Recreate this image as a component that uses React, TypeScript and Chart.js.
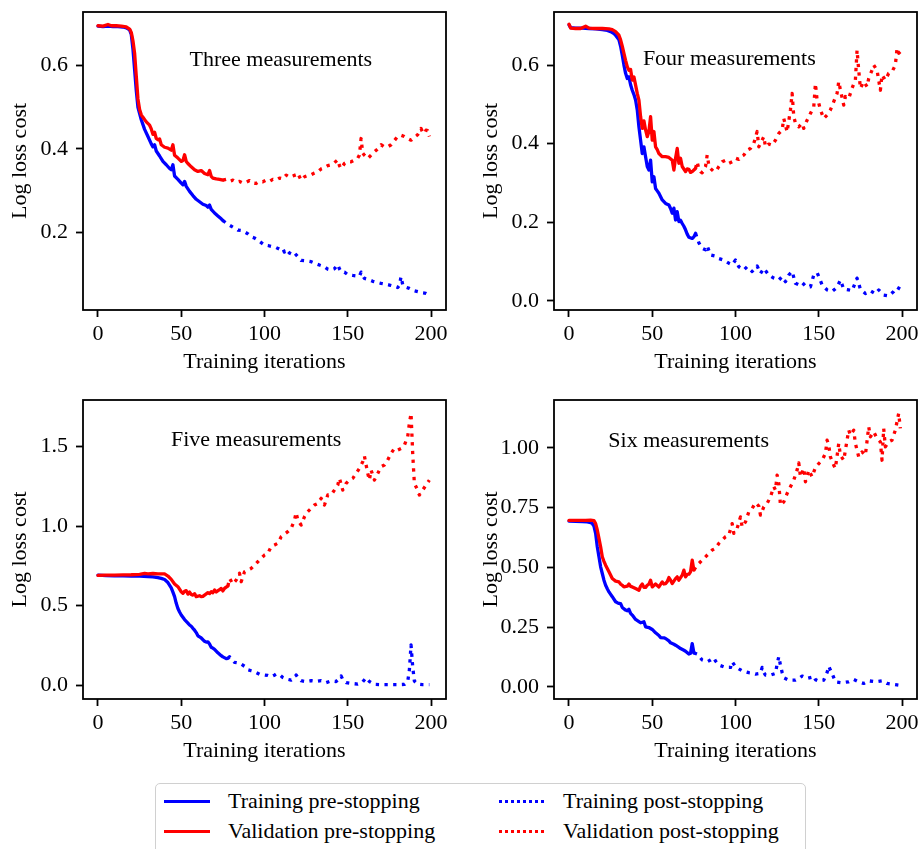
import React, { useEffect, useRef } from "react";
import { Chart, registerables } from "chart.js";

Chart.register(...registerables);

const FONT_FAMILY = '"Liberation Serif", "Times New Roman", Times, serif';
const FONT_SIZE = 22;
const BLUE = "#0000ff";
const RED = "#ff0000";

const xTicks = [0, 50, 100, 150, 200];
const xTickLabels = ["0", "50", "100", "150", "200"];
const xLabel = "Training iterations";
const yLabel = "Log loss cost";
const legendLabels = [
  "Training pre-stopping",
  "Validation pre-stopping",
  "Training post-stopping",
  "Validation post-stopping",
];

// ---------- Panel 1: Three measurements ----------
const p1Title = "Three measurements";
const p1Stop = 75;
const p1YTicks = [0.2, 0.4, 0.6];
const p1YTickLabels = ["0.2", "0.4", "0.6"];
const p1TrainIt = [0, 3, 6, 9, 12, 15, 17, 19, 20, 21, 22, 23, 24, 25, 26, 28, 30, 32, 33, 34, 35, 37, 39, 41, 43, 44, 45, 46, 48, 50, 51, 52, 53, 55, 57, 59, 61, 63, 65, 66, 67, 68, 70, 72, 74, 75,
  78, 81, 84, 86, 88, 90, 92, 94, 96, 98, 100, 102, 105, 107, 110, 111, 112, 113, 115, 117, 118, 120, 122, 125, 128, 131, 133, 136, 138, 140, 142, 144, 145, 146, 148, 150, 153, 155, 157, 158, 159, 160, 162, 165, 168, 170, 173, 175, 178, 180, 181, 182, 183, 184, 187, 190, 192, 195, 197, 199];
const p1TrainLoss = [0.695, 0.694, 0.695, 0.694, 0.694, 0.693, 0.691, 0.686, 0.675, 0.64, 0.59, 0.54, 0.5, 0.485, 0.47, 0.447, 0.43, 0.412, 0.405, 0.41, 0.395, 0.383, 0.37, 0.362, 0.353, 0.35, 0.362, 0.335, 0.327, 0.318, 0.314, 0.322, 0.31, 0.298, 0.288, 0.279, 0.273, 0.267, 0.264, 0.26, 0.265, 0.255, 0.246, 0.239, 0.232, 0.228,
  0.219, 0.212, 0.205, 0.204, 0.201, 0.196, 0.189, 0.186, 0.181, 0.175, 0.169, 0.168, 0.165, 0.163, 0.157, 0.16, 0.152, 0.158, 0.15, 0.146, 0.15, 0.141, 0.132, 0.131, 0.129, 0.124, 0.121, 0.117, 0.111, 0.109, 0.112, 0.122, 0.112, 0.105, 0.104, 0.098, 0.096, 0.095, 0.094, 0.104, 0.095, 0.089, 0.087, 0.082, 0.079, 0.077, 0.075, 0.073, 0.07, 0.067, 0.072, 0.093, 0.074, 0.069, 0.065, 0.059, 0.057, 0.054, 0.053, 0.049];
const p1ValIt = [0, 3, 6, 8, 11, 14, 17, 19, 20, 21, 22, 23, 24, 25, 26, 27, 29, 31, 32, 33, 34, 35, 36, 37, 38, 40, 42, 44, 45, 46, 48, 50, 51, 52, 53, 54, 56, 58, 60, 62, 64, 66, 67, 68, 69, 71, 73, 75,
  77, 79, 81, 83, 85, 87, 89, 91, 93, 95, 97, 99, 101, 103, 105, 107, 109, 111, 113, 115, 117, 119, 120, 121, 122, 124, 126, 128, 130, 132, 134, 136, 138, 140, 142, 144, 145, 146, 148, 150, 152, 154, 156, 157, 158, 159, 160, 162, 164, 166, 168, 170, 172, 174, 176, 178, 180, 182, 184, 186, 188, 190, 192, 194, 195, 196, 197, 198, 199];
const p1ValLoss = [0.696, 0.695, 0.699, 0.696, 0.696, 0.695, 0.693, 0.688, 0.68, 0.66, 0.63, 0.575, 0.52, 0.495, 0.482, 0.476, 0.465, 0.457, 0.448, 0.435, 0.44, 0.425, 0.422, 0.424, 0.41, 0.404, 0.402, 0.397, 0.41, 0.385, 0.378, 0.37, 0.372, 0.386, 0.37, 0.365, 0.357, 0.35, 0.346, 0.348, 0.341, 0.338, 0.348, 0.334, 0.33, 0.328, 0.327, 0.325,
  0.327, 0.322, 0.325, 0.32, 0.322, 0.318, 0.32, 0.324, 0.318, 0.317, 0.322, 0.321, 0.325, 0.322, 0.327, 0.325, 0.33, 0.328, 0.337, 0.332, 0.335, 0.338, 0.342, 0.333, 0.325, 0.333, 0.336, 0.338, 0.342, 0.345, 0.352, 0.355, 0.36, 0.362, 0.367, 0.374, 0.36, 0.353, 0.365, 0.37, 0.369, 0.373, 0.378, 0.385, 0.425, 0.39, 0.385, 0.377, 0.385, 0.393, 0.4, 0.41, 0.405, 0.405, 0.41, 0.42, 0.43, 0.433, 0.43, 0.425, 0.421, 0.428, 0.434, 0.449, 0.44, 0.437, 0.445, 0.444, 0.43];

// ---------- Panel 2: Four measurements ----------
const p2Title = "Four measurements";
const p2Stop = 76;
const p2YTicks = [0.0, 0.2, 0.4, 0.6];
const p2YTickLabels = ["0.0", "0.2", "0.4", "0.6"];
const p2TrainIt = [0, 1, 4, 8, 12, 16, 20, 23, 25, 27, 28, 30, 31, 32, 33, 34, 35, 36, 37, 38, 39, 40, 41, 42, 43, 44, 45, 46, 47, 48, 49, 50, 51, 52, 53, 54, 56, 58, 60, 61, 62, 63, 64, 65, 66, 67, 68, 69, 70, 71, 72, 74, 75, 76,
  78, 80, 82, 83, 85, 88, 90, 93, 96, 98, 100, 102, 105, 107, 110, 113, 115, 117, 120, 123, 126, 128, 130, 132, 134, 136, 138, 140, 142, 145, 147, 149, 150, 152, 155, 158, 161, 163, 165, 168, 170, 173, 175, 178, 181, 184, 186, 189, 192, 195, 197, 199];
const p2TrainLoss = [0.702, 0.695, 0.694, 0.694, 0.693, 0.692, 0.69, 0.688, 0.685, 0.68, 0.676, 0.664, 0.648, 0.625, 0.6, 0.579, 0.566, 0.57, 0.55, 0.536, 0.525, 0.511, 0.486, 0.443, 0.409, 0.375, 0.392, 0.367, 0.342, 0.333, 0.358, 0.303, 0.316, 0.286, 0.28, 0.274, 0.257, 0.248, 0.244, 0.235, 0.223, 0.236, 0.206, 0.227, 0.202, 0.205, 0.197, 0.19, 0.181, 0.17, 0.162, 0.159, 0.163, 0.172,
  0.148, 0.134, 0.13, 0.14, 0.117, 0.114, 0.108, 0.104, 0.096, 0.092, 0.104, 0.087, 0.079, 0.087, 0.075, 0.089, 0.07, 0.083, 0.066, 0.058, 0.053, 0.062, 0.049, 0.066, 0.075, 0.045, 0.041, 0.047, 0.038, 0.036, 0.066, 0.072, 0.062, 0.041, 0.028, 0.024, 0.035, 0.053, 0.03, 0.028, 0.026, 0.058, 0.03, 0.019, 0.026, 0.018, 0.028, 0.015, 0.013, 0.024, 0.035, 0.03];
const p2ValIt = [0, 1, 4, 7, 10, 12, 16, 20, 24, 26, 28, 30, 31, 32, 33, 34, 35, 36, 37, 38, 39, 40, 41, 42, 43, 44, 45, 46, 47, 48, 49, 50, 51, 52, 53, 54, 56, 58, 60, 62, 63, 64, 65, 66, 67, 68, 70, 71, 72, 73, 74, 75, 76,
  77, 78, 79, 80, 82, 83, 84, 85, 87, 89, 90, 92, 94, 96, 98, 100, 102, 103, 105, 107, 109, 111, 113, 114, 116, 117, 118, 120, 122, 124, 126, 128, 129, 131, 133, 134, 135, 136, 138, 140, 141, 143, 145, 147, 148, 149, 150, 151, 153, 155, 157, 159, 161, 162, 163, 165, 166, 168, 170, 172, 173, 174, 175, 177, 179, 180, 182, 183, 185, 187, 188, 190, 192, 194, 196, 197, 198, 199];
const p2ValLoss = [0.704, 0.694, 0.693, 0.693, 0.699, 0.694, 0.693, 0.693, 0.692, 0.69, 0.685, 0.676, 0.664, 0.648, 0.63, 0.612, 0.596, 0.587, 0.589, 0.562, 0.57, 0.549, 0.528, 0.511, 0.469, 0.439, 0.458, 0.435, 0.418, 0.431, 0.469, 0.409, 0.431, 0.392, 0.385, 0.375, 0.367, 0.367, 0.365, 0.358, 0.333, 0.363, 0.388, 0.35, 0.363, 0.342, 0.329, 0.336, 0.335, 0.327, 0.329, 0.333, 0.337,
  0.354, 0.335, 0.329, 0.326, 0.342, 0.371, 0.345, 0.337, 0.329, 0.335, 0.342, 0.354, 0.358, 0.35, 0.354, 0.363, 0.36, 0.367, 0.371, 0.384, 0.388, 0.401, 0.431, 0.392, 0.409, 0.418, 0.392, 0.399, 0.396, 0.409, 0.426, 0.435, 0.464, 0.43, 0.486, 0.528, 0.469, 0.452, 0.443, 0.452, 0.439, 0.46, 0.477, 0.494, 0.553, 0.511, 0.503, 0.486, 0.464, 0.473, 0.486, 0.507, 0.528, 0.558, 0.537, 0.498, 0.52, 0.515, 0.541, 0.562, 0.638, 0.587, 0.541, 0.558, 0.545, 0.566, 0.587, 0.6, 0.587, 0.536, 0.575, 0.562, 0.579, 0.583, 0.6, 0.642, 0.63, 0.634];

// ---------- Panel 3: Five measurements ----------
const p3Title = "Five measurements";
const p3Stop = 78;
const p3YTicks = [0.0, 0.5, 1.0, 1.5];
const p3YTickLabels = ["0.0", "0.5", "1.0", "1.5"];
const p3TrainIt = [0, 5, 10, 15, 20, 25, 30, 33, 36, 38, 40, 42, 44, 45, 46, 47, 48, 49, 50, 52, 54, 55, 56, 57, 58, 59, 60, 62, 64, 65, 66, 67, 68, 69, 70, 72, 74, 75, 77, 78,
  79, 80, 82, 85, 88, 90, 92, 94, 97, 100, 102, 104, 106, 107, 109, 111, 113, 116, 118, 119, 120, 122, 125, 128, 131, 134, 137, 140, 143, 145, 146, 147, 149, 152, 156, 159, 161, 163, 166, 170, 175, 180, 184, 186, 187, 188, 189, 190, 192, 195, 199];
const p3TrainLoss = [0.692, 0.688, 0.687, 0.687, 0.686, 0.685, 0.683, 0.681, 0.676, 0.671, 0.664, 0.645, 0.612, 0.585, 0.556, 0.514, 0.482, 0.46, 0.441, 0.412, 0.39, 0.378, 0.37, 0.357, 0.345, 0.33, 0.31, 0.296, 0.275, 0.27, 0.272, 0.258, 0.238, 0.232, 0.225, 0.203, 0.185, 0.177, 0.166, 0.168,
  0.178, 0.165, 0.143, 0.138, 0.118, 0.096, 0.09, 0.084, 0.068, 0.063, 0.06, 0.052, 0.062, 0.069, 0.066, 0.048, 0.038, 0.031, 0.045, 0.063, 0.048, 0.027, 0.021, 0.027, 0.022, 0.027, 0.015, 0.026, 0.022, 0.04, 0.057, 0.035, 0.015, 0.01, 0.006, 0.02, 0.046, 0.022, 0.004, 0.002, 0.002, 0.002, 0.004, 0.021, 0.094, 0.252, 0.115, 0.025, 0.005, 0.002, 0.002];
const p3ValIt = [0, 5, 10, 15, 20, 25, 28, 30, 33, 36, 40, 42, 44, 46, 48, 50, 51, 52, 53, 54, 55, 56, 57, 58, 59, 61, 62, 63, 64, 66, 67, 68, 69, 70, 71, 72, 73, 74, 75, 76, 77, 78,
  79, 81, 83, 85, 86, 88, 90, 92, 94, 96, 98, 100, 102, 104, 106, 108, 110, 112, 114, 116, 118, 119, 120, 122, 124, 126, 128, 130, 132, 134, 136, 138, 140, 142, 144, 145, 147, 149, 151, 153, 155, 157, 159, 160, 162, 163, 164, 166, 168, 170, 172, 174, 176, 178, 180, 182, 184, 186, 187, 188, 189, 190, 192, 193, 195, 197, 199];
const p3ValLoss = [0.69, 0.692, 0.692, 0.693, 0.694, 0.697, 0.703, 0.7, 0.702, 0.699, 0.699, 0.686, 0.665, 0.636, 0.619, 0.587, 0.577, 0.59, 0.594, 0.572, 0.585, 0.57, 0.566, 0.575, 0.556, 0.562, 0.556, 0.558, 0.566, 0.581, 0.575, 0.587, 0.581, 0.598, 0.585, 0.594, 0.6, 0.608, 0.592, 0.608, 0.616, 0.623,
  0.671, 0.636, 0.661, 0.703, 0.65, 0.713, 0.724, 0.734, 0.755, 0.776, 0.797, 0.818, 0.829, 0.871, 0.881, 0.892, 0.933, 0.95, 0.965, 0.986, 1.038, 1.085, 1.038, 1.007, 1.059, 1.091, 1.112, 1.133, 1.143, 1.175, 1.133, 1.196, 1.196, 1.227, 1.259, 1.301, 1.227, 1.269, 1.29, 1.301, 1.332, 1.364, 1.405, 1.441, 1.332, 1.29, 1.353, 1.29, 1.332, 1.374, 1.385, 1.416, 1.458, 1.489, 1.479, 1.489, 1.51, 1.563, 1.647, 1.71, 1.458, 1.269, 1.227, 1.196, 1.227, 1.259, 1.29];

// ---------- Panel 4: Six measurements ----------
const p4Title = "Six measurements";
const p4Stop = 75;
const p4YTicks = [0.0, 0.25, 0.5, 0.75, 1.0];
const p4YTickLabels = ["0.00", "0.25", "0.50", "0.75", "1.00"];
const p4TrainIt = [0, 4, 8, 11, 13, 14, 15, 16, 17, 18, 19, 20, 21, 22, 23, 24, 26, 28, 29, 30, 31, 32, 34, 35, 36, 37, 38, 40, 42, 43, 45, 46, 48, 50, 52, 54, 55, 57, 58, 60, 61, 63, 64, 66, 67, 69, 70, 72, 73, 74, 75,
  77, 80, 83, 85, 87, 88, 90, 94, 97, 98, 100, 102, 104, 108, 110, 112, 115, 116, 117, 118, 121, 124, 125, 126, 127, 128, 129, 132, 136, 138, 140, 143, 146, 147, 148, 150, 153, 155, 156, 157, 158, 160, 164, 168, 171, 174, 177, 180, 184, 188, 191, 194, 197, 198];
const p4TrainLoss = [0.693, 0.692, 0.691, 0.69, 0.687, 0.683, 0.672, 0.642, 0.586, 0.544, 0.502, 0.474, 0.446, 0.425, 0.41, 0.397, 0.377, 0.356, 0.352, 0.349, 0.348, 0.332, 0.321, 0.318, 0.324, 0.307, 0.3, 0.282, 0.273, 0.268, 0.272, 0.251, 0.248, 0.24, 0.226, 0.215, 0.206, 0.205, 0.202, 0.192, 0.184, 0.178, 0.174, 0.165, 0.16, 0.153, 0.149, 0.137, 0.14, 0.181, 0.142,
  0.137, 0.112, 0.105, 0.112, 0.121, 0.108, 0.091, 0.081, 0.081, 0.105, 0.084, 0.075, 0.067, 0.059, 0.057, 0.053, 0.056, 0.081, 0.06, 0.049, 0.049, 0.056, 0.095, 0.126, 0.09, 0.06, 0.038, 0.028, 0.028, 0.035, 0.045, 0.035, 0.04, 0.045, 0.03, 0.024, 0.028, 0.06, 0.086, 0.07, 0.056, 0.021, 0.017, 0.021, 0.031, 0.021, 0.014, 0.025, 0.021, 0.025, 0.014, 0.011, 0.008, 0.007];
const p4ValIt = [0, 5, 10, 13, 15, 16, 17, 18, 19, 20, 21, 22, 24, 26, 28, 30, 31, 32, 33, 35, 36, 37, 38, 40, 42, 43, 44, 45, 46, 47, 48, 49, 50, 52, 54, 56, 57, 58, 59, 60, 61, 62, 64, 65, 66, 68, 69, 70, 71, 72, 73, 74, 75,
  77, 80, 82, 84, 86, 88, 90, 92, 94, 96, 98, 99, 101, 103, 104, 106, 108, 110, 112, 114, 115, 117, 119, 121, 123, 124, 125, 126, 127, 129, 131, 133, 135, 137, 138, 139, 141, 142, 144, 146, 148, 150, 152, 154, 155, 156, 157, 159, 160, 162, 163, 165, 166, 168, 169, 171, 172, 174, 176, 178, 180, 181, 183, 185, 187, 188, 189, 190, 192, 194, 196, 198, 199];
const p4ValLoss = [0.696, 0.696, 0.696, 0.697, 0.695, 0.683, 0.656, 0.621, 0.586, 0.544, 0.525, 0.509, 0.481, 0.453, 0.442, 0.439, 0.43, 0.425, 0.418, 0.421, 0.43, 0.42, 0.418, 0.411, 0.404, 0.421, 0.43, 0.416, 0.416, 0.425, 0.43, 0.446, 0.418, 0.43, 0.418, 0.439, 0.43, 0.432, 0.44, 0.457, 0.446, 0.432, 0.453, 0.46, 0.446, 0.467, 0.488, 0.46, 0.47, 0.471, 0.481, 0.53, 0.488,
  0.509, 0.53, 0.544, 0.558, 0.572, 0.579, 0.6, 0.614, 0.628, 0.635, 0.683, 0.642, 0.663, 0.711, 0.669, 0.69, 0.732, 0.746, 0.77, 0.756, 0.718, 0.753, 0.767, 0.795, 0.837, 0.823, 0.886, 0.851, 0.76, 0.774, 0.809, 0.837, 0.865, 0.907, 0.937, 0.879, 0.914, 0.858, 0.907, 0.879, 0.918, 0.934, 0.948, 0.976, 1.032, 1.011, 0.962, 0.927, 0.914, 1.018, 0.969, 0.948, 0.99, 1.074, 1.053, 1.074, 1.018, 0.962, 0.983, 0.969, 1.088, 1.046, 1.067, 1.039, 1.025, 0.948, 1.081, 1.004, 1.025, 1.032, 1.074, 1.144, 1.081];

// ---------- layout (positions / sizes only) ----------
type Box = { left: number; top: number; w: number; h: number };
type Plot = { left: number; top: number; right: number; bottom: number };

const LAYOUT: { box: Box; plot: Plot; yRange: [number, number]; titlePos: [number, number] }[] = [
  { box: { left: 0, top: 0, w: 460, h: 380 }, plot: { left: 83, top: 12, right: 446, bottom: 310 }, yRange: [0.013, 0.729], titlePos: [0.545, 0.161] },
  { box: { left: 460, top: 0, w: 460, h: 380 }, plot: { left: 554, top: 12, right: 917, bottom: 310 }, yRange: [-0.023, 0.735], titlePos: [0.483, 0.158] },
  { box: { left: 0, top: 388, w: 460, h: 380 }, plot: { left: 83, top: 400, right: 446, bottom: 699 }, yRange: [-0.088, 1.794], titlePos: [0.477, 0.136] },
  { box: { left: 460, top: 388, w: 460, h: 380 }, plot: { left: 554, top: 400, right: 917, bottom: 699 }, yRange: [-0.051, 1.2], titlePos: [0.371, 0.137] },
];
const X_RANGE: [number, number] = [-9, 209];

type PanelData = {
  title: string; stop: number; yTicks: number[]; yTickLabels: string[];
  trainIt: number[]; trainLoss: number[]; valIt: number[]; valLoss: number[];
};

const PANELS: PanelData[] = [
  { title: p1Title, stop: p1Stop, yTicks: p1YTicks, yTickLabels: p1YTickLabels, trainIt: p1TrainIt, trainLoss: p1TrainLoss, valIt: p1ValIt, valLoss: p1ValLoss },
  { title: p2Title, stop: p2Stop, yTicks: p2YTicks, yTickLabels: p2YTickLabels, trainIt: p2TrainIt, trainLoss: p2TrainLoss, valIt: p2ValIt, valLoss: p2ValLoss },
  { title: p3Title, stop: p3Stop, yTicks: p3YTicks, yTickLabels: p3YTickLabels, trainIt: p3TrainIt, trainLoss: p3TrainLoss, valIt: p3ValIt, valLoss: p3ValLoss },
  { title: p4Title, stop: p4Stop, yTicks: p4YTicks, yTickLabels: p4YTickLabels, trainIt: p4TrainIt, trainLoss: p4TrainLoss, valIt: p4ValIt, valLoss: p4ValLoss },
];

function seg(it: number[], v: number[], from: number, to: number) {
  const out: { x: number; y: number }[] = [];
  for (let i = 0; i < it.length; i++) {
    if (it[i] >= from && it[i] <= to) out.push({ x: it[i], y: v[i] });
  }
  return out;
}

const DOT: number[] = [3.3, 5.4];
const LINE_W = 3.3;

function Panel({ data, idx }: { data: PanelData; idx: number }) {
  const ref = useRef<HTMLCanvasElement | null>(null);
  const { box, plot, yRange, titlePos } = LAYOUT[idx];

  useEffect(() => {
    const font = { family: FONT_FAMILY, size: FONT_SIZE, lineHeight: 1.2 };
    const xScaleH = box.top + box.h - plot.bottom;
    const yScaleW = plot.left - box.left;
    const yTitleCenter = plot.left - 63;
    const yTitlePad = yTitleCenter - box.left - 13.2;
    const xTitleCenter = plot.bottom + 52;
    const xTitlePad = box.top + box.h - xTitleCenter - 13.2;

    const framePlugin = {
      id: "frame" + idx,
      afterDatasetsDraw(chart: any) {
        const { ctx, chartArea: a } = chart;
        ctx.save();
        ctx.strokeStyle = "#000";
        ctx.lineWidth = 1.8;
        ctx.strokeRect(a.left, a.top, a.right - a.left, a.bottom - a.top);
        ctx.restore();
      },
      afterDraw(chart: any) {
        const { ctx, chartArea: a } = chart;
        ctx.save();
        ctx.fillStyle = "#000";
        ctx.font = `${FONT_SIZE}px ${FONT_FAMILY}`;
        ctx.textAlign = "center";
        ctx.textBaseline = "middle";
        ctx.fillText(
          data.title,
          a.left + titlePos[0] * (a.right - a.left),
          a.top + titlePos[1] * (a.bottom - a.top)
        );
        ctx.restore();
      },
    };

    const common = { pointRadius: 0, pointHoverRadius: 0, tension: 0, fill: false, borderWidth: LINE_W, borderJoinStyle: "round" as const };

    const chart = new Chart(ref.current as HTMLCanvasElement, {
      type: "line",
      data: {
        datasets: [
          { ...common, label: legendLabels[0], data: seg(data.trainIt, data.trainLoss, -Infinity, data.stop), borderColor: BLUE, backgroundColor: BLUE, order: 4, borderCapStyle: "round" },
          { ...common, label: legendLabels[1], data: seg(data.valIt, data.valLoss, -Infinity, data.stop), borderColor: RED, backgroundColor: RED, order: 3, borderCapStyle: "round" },
          { ...common, label: legendLabels[2], data: seg(data.trainIt, data.trainLoss, data.stop, Infinity), borderColor: BLUE, backgroundColor: BLUE, order: 2, borderDash: DOT, borderCapStyle: "butt" },
          { ...common, label: legendLabels[3], data: seg(data.valIt, data.valLoss, data.stop, Infinity), borderColor: RED, backgroundColor: RED, order: 1, borderDash: DOT, borderCapStyle: "butt" },
        ],
      },
      options: {
        animation: false,
        responsive: false,
        maintainAspectRatio: false,
        events: [],
        layout: {
          padding: { left: 0, top: plot.top - box.top, right: box.left + box.w - plot.right, bottom: 0 },
        },
        plugins: { legend: { display: false }, tooltip: { enabled: false } },
        scales: {
          x: {
            type: "linear",
            min: X_RANGE[0],
            max: X_RANGE[1],
            afterBuildTicks: (s: any) => { s.ticks = xTicks.map((v) => ({ value: v })); },
            afterFit: (s: any) => { s.height = xScaleH; s.paddingLeft = 0; s.paddingRight = 0; },
            ticks: {
              autoSkip: false, maxRotation: 0, minRotation: 0, padding: 4, color: "#000", font,
              callback: (v: any) => { const i = xTicks.indexOf(Number(v)); return i >= 0 ? xTickLabels[i] : ""; },
            },
            grid: { display: true, drawOnChartArea: false, drawTicks: true, tickLength: 7, tickWidth: 1.8, tickColor: "#000" },
            border: { display: false },
            title: { display: true, text: xLabel, color: "#000", font, padding: { top: 0, bottom: xTitlePad } },
          },
          y: {
            type: "linear",
            min: yRange[0],
            max: yRange[1],
            afterBuildTicks: (s: any) => { s.ticks = data.yTicks.map((v) => ({ value: v })); },
            afterFit: (s: any) => { s.width = yScaleW; s.paddingTop = 0; s.paddingBottom = 0; },
            ticks: {
              autoSkip: false, padding: 8, color: "#000", font,
              callback: (v: any) => { const i = data.yTicks.indexOf(Number(v)); return i >= 0 ? data.yTickLabels[i] : ""; },
            },
            grid: { display: true, drawOnChartArea: false, drawTicks: true, tickLength: 7, tickWidth: 1.8, tickColor: "#000" },
            border: { display: false },
            title: { display: true, text: yLabel, color: "#000", font, padding: { top: yTitlePad, bottom: 0 } },
          },
        },
      },
      plugins: [framePlugin],
    } as any);
    return () => chart.destroy();
  }, []);

  return (
    <canvas
      ref={ref}
      width={box.w}
      height={box.h}
      style={{ position: "absolute", left: box.left, top: box.top, width: box.w, height: box.h }}
    />
  );
}

function Handle({ color, dotted }: { color: string; dotted: boolean }) {
  const bg = dotted
    ? `repeating-linear-gradient(to right, ${color} 0px, ${color} 3px, transparent 3px, transparent 6px)`
    : color;
  return <div style={{ width: 46, height: 3, background: bg }} />;
}

function Legend() {
  const items = [
    { label: legendLabels[0], color: BLUE, dotted: false, col: 0, row: 0 },
    { label: legendLabels[1], color: RED, dotted: false, col: 0, row: 1 },
    { label: legendLabels[2], color: BLUE, dotted: true, col: 1, row: 0 },
    { label: legendLabels[3], color: RED, dotted: true, col: 1, row: 1 },
  ];
  const colX = [8, 343];
  const rowY = [17, 47];
  return (
    <div
      style={{
        position: "absolute", left: 155, top: 783, width: 651, height: 80,
        border: "1.8px solid #d0d0d0", borderRadius: 5, background: "#fff", boxSizing: "border-box",
      }}
    >
      {items.map((it) => (
        <div
          key={it.label}
          style={{
            position: "absolute", left: colX[it.col], top: rowY[it.row] - 15, height: 30,
            display: "flex", alignItems: "center", whiteSpace: "nowrap",
          }}
        >
          <Handle color={it.color} dotted={it.dotted} />
          <span style={{ marginLeft: 18, fontFamily: FONT_FAMILY, fontSize: FONT_SIZE, lineHeight: "30px", color: "#000" }}>
            {it.label}
          </span>
        </div>
      ))}
    </div>
  );
}

export default function App() {
  return (
    <div style={{ position: "absolute", left: 0, top: 0, width: 920, height: 849, overflow: "hidden", background: "#fff" }}>
      {PANELS.map((p, i) => (
        <Panel key={i} data={p} idx={i} />
      ))}
      <Legend />
    </div>
  );
}
